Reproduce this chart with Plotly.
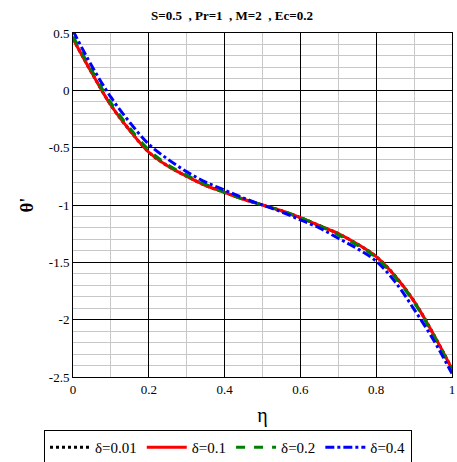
import plotly.graph_objects as go

# similarity coordinate
eta = [0.0, 0.05, 0.1, 0.15, 0.2, 0.25, 0.3, 0.35, 0.4, 0.45, 0.5,
       0.55, 0.6, 0.65, 0.7, 0.75, 0.8, 0.85, 0.9, 0.95, 1.0]

# temperature gradient theta' for each delta
theta_d001 = [0.45, 0.15, -0.13, -0.35, -0.54, -0.66, -0.75, -0.83, -0.89, -0.95, -1.0,
              -1.05, -1.11, -1.18, -1.25, -1.34, -1.45, -1.62, -1.84, -2.12, -2.43]
theta_d01 = [0.45, 0.15, -0.13, -0.35, -0.54, -0.66, -0.75, -0.83, -0.89, -0.95, -1.0,
             -1.05, -1.11, -1.18, -1.25, -1.34, -1.45, -1.62, -1.84, -2.12, -2.43]
theta_d02 = [0.47, 0.17, -0.11, -0.33, -0.52, -0.65, -0.74, -0.82, -0.89, -0.95, -1.0,
             -1.05, -1.11, -1.18, -1.26, -1.35, -1.46, -1.63, -1.85, -2.13, -2.44]
theta_d04 = [0.52, 0.21, -0.06, -0.28, -0.47, -0.60, -0.71, -0.80, -0.87, -0.94, -1.0,
             -1.06, -1.13, -1.20, -1.29, -1.38, -1.49, -1.67, -1.91, -2.17, -2.47]

series = [
    ("δ=0.01", theta_d001, "black", "dot", 3),
    ("δ=0.1", theta_d01, "red", "solid", 3),
    ("δ=0.2", theta_d02, "green", "dash", 3),
    ("δ=0.4", theta_d04, "blue", "dashdot", 3),
]

x_ticks = [0, 0.2, 0.4, 0.6, 0.8, 1]
x_labels = ["0", "0.2", "0.4", "0.6", "0.8", "1"]
y_ticks = [0.5, 0, -0.5, -1, -1.5, -2, -2.5]
y_labels = ["0.5", "0", "-0.5", "-1", "-1.5", "-2", "-2.5"]

fig = go.Figure()
for name, ys, color, dash, width in series:
    fig.add_trace(go.Scatter(
        x=eta, y=ys, mode="lines", name=name,
        line=dict(color=color, dash=dash, width=width, shape="spline"),
    ))

serif = "Times New Roman, Liberation Serif, serif"

fig.update_layout(
    width=457, height=462,
    margin=dict(l=73, r=2, t=33, b=85),
    paper_bgcolor="white", plot_bgcolor="white",
    title=dict(text="<b>S=0.5  , Pr=1  , M=2  , Ec=0.2</b>",
               x=232 / 457, xref="container", xanchor="center",
               y=1 - 15 / 462, yref="container", yanchor="middle",
               font=dict(family=serif, size=13, color="black")),
    font=dict(family=serif, size=12, color="black"),
    showlegend=True,
    legend=dict(orientation="h", x=228 / 457, xref="container", xanchor="center",
                y=1 - 430 / 462, yref="container", yanchor="top",
                bordercolor="black", borderwidth=1, bgcolor="white",
                font=dict(family=serif, size=15, color="black"),
                itemwidth=40, tracegroupgap=0),
)

fig.update_xaxes(
    range=[0, 1], tickvals=x_ticks, ticktext=x_labels,
    showgrid=True, gridcolor="black", gridwidth=1,
    minor=dict(dtick=0.1, showgrid=True, gridcolor="#c8c8c8", gridwidth=1),
    showline=True, linecolor="black", linewidth=1, mirror=True,
    ticks="", ticklen=0, zeroline=False, ticklabeloverflow="allow",
    title=dict(text="η", font=dict(family=serif, size=20, color="black"), standoff=12),
    tickfont=dict(family=serif, size=13, color="black"),
)
fig.update_yaxes(
    range=[-2.5, 0.5], tickvals=y_ticks, ticktext=y_labels,
    showgrid=True, gridcolor="black", gridwidth=1,
    minor=dict(dtick=0.1, tick0=0, showgrid=True, gridcolor="#c8c8c8", gridwidth=1),
    showline=True, linecolor="black", linewidth=1, mirror=True,
    ticks="", ticklen=0, zeroline=False,
    title=dict(text="<b>θ'</b>", font=dict(family=serif, size=19, color="black"), standoff=10),
    tickfont=dict(family=serif, size=13, color="black"),
)

fig.write_html("out.html")
